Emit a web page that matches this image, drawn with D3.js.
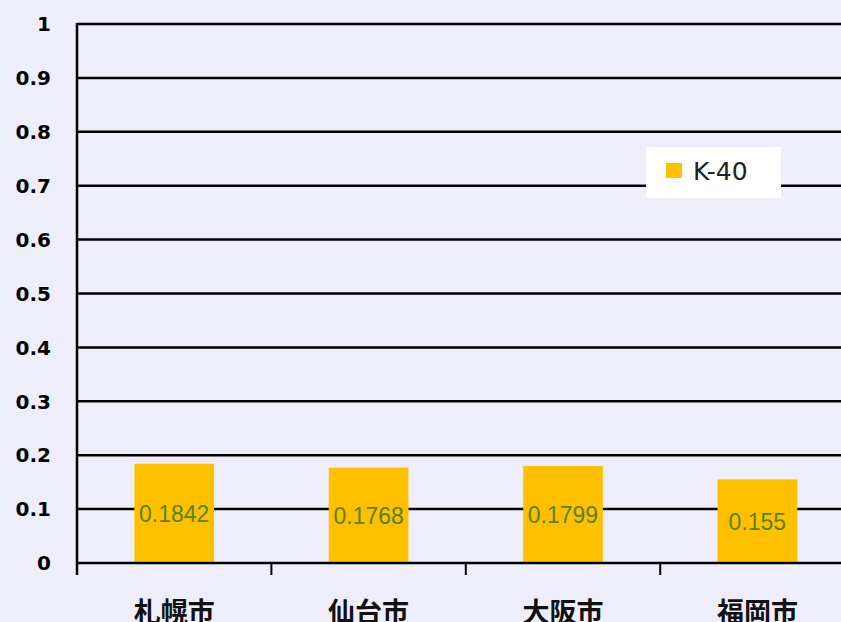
<!DOCTYPE html>
<html><head><meta charset="utf-8">
<script src="https://cdn.jsdelivr.net/npm/d3@7"></script>
<style>html,body{margin:0;padding:0;background:#eeeefb;}svg{display:block;}</style>
</head><body>
<script>
const categories = ["札幌市", "仙台市", "大阪市", "福岡市"];
const values = [0.1842, 0.1768, 0.1799, 0.155];
const valueLabels = ["0.1842", "0.1768", "0.1799", "0.155"];
const yTicks = [0, 0.1, 0.2, 0.3, 0.4, 0.5, 0.6, 0.7, 0.8, 0.9, 1];
const seriesName = "K-40";

const W = 841, H = 622;
const svg = d3.select("body").append("svg").attr("width", W).attr("height", H);
svg.append("rect").attr("width", W).attr("height", H).attr("fill", "#eeeefb");

const x0 = 77, x1 = 77 + 4 * 194.4, yTop = 24, yBot = 563;
const x = d3.scaleBand().domain(categories).range([x0, x1]).paddingInner(0.59).paddingOuter(0.295);
const y = d3.scaleLinear().domain([0, 1]).range([yBot, yTop]);

// gridlines
svg.append("g").selectAll("line").data(yTicks.filter(d => d > 0)).join("line")
  .attr("x1", x0).attr("x2", x1).attr("y1", d => y(d)).attr("y2", d => y(d))
  .attr("stroke", "#000").attr("stroke-width", 2.5);

// bars
svg.append("g").selectAll("rect").data(values).join("rect")
  .attr("x", (d, i) => x(categories[i])).attr("width", x.bandwidth())
  .attr("y", d => y(d)).attr("height", d => yBot - y(d))
  .attr("fill", "#ffc000");

// value labels
svg.append("g").selectAll("text").data(values).join("text")
  .attr("x", (d, i) => x(categories[i]) + x.bandwidth() / 2)
  .attr("y", d => y(d / 2)).attr("dy", "0.36em")
  .attr("text-anchor", "middle")
  .attr("font-family", "Liberation Sans, Arial, sans-serif").attr("font-size", 23)
  .attr("fill", "#5a8000")
  .text((d, i) => valueLabels[i]);

// axes
const band = (x1 - x0) / categories.length;
const g = svg.append("g");
g.append("line").attr("x1", x0).attr("x2", x1).attr("y1", yBot).attr("y2", yBot).attr("stroke", "#000").attr("stroke-width", 2.5);
g.append("line").attr("x1", x0).attr("x2", x0).attr("y1", yTop - 1).attr("y2", yBot + 12).attr("stroke", "#000").attr("stroke-width", 2.5);
g.selectAll("line.tk").data(d3.range(1, categories.length + 1)).join("line").attr("class", "tk")
  .attr("x1", i => x0 + i * band).attr("x2", i => x0 + i * band)
  .attr("y1", yBot).attr("y2", yBot + 12).attr("stroke", "#000").attr("stroke-width", 2);

// y tick labels
svg.append("g").selectAll("text").data(yTicks).join("text")
  .attr("x", 51).attr("y", d => y(d)).attr("dy", "0.36em")
  .attr("text-anchor", "end")
  .attr("font-family", "DejaVu Sans, Verdana, sans-serif").attr("font-size", 20).attr("font-weight", "bold")
  .attr("fill", "#000")
  .text(d => d3.format("")(d));

// x labels
svg.append("g").selectAll("text").data(categories).join("text")
  .attr("x", d => x(d) + x.bandwidth() / 2).attr("y", 622)
  .attr("text-anchor", "middle")
  .attr("font-family", "Noto Sans CJK JP, sans-serif").attr("font-size", 27).attr("font-weight", "bold")
  .attr("fill", "#111")
  .text(d => d);

// legend
const lg = svg.append("g");
lg.append("rect").attr("x", 646).attr("y", 147).attr("width", 135).attr("height", 51).attr("fill", "#fff");
lg.append("rect").attr("x", 666).attr("y", 163).attr("width", 16).attr("height", 15).attr("fill", "#ffc000");
lg.append("text").attr("x", 693).attr("y", 171).attr("dy", "0.36em")
  .attr("font-family", "DejaVu Sans, sans-serif").attr("font-size", 25).attr("fill", "#222").text(seriesName);
</script>
</body></html>
